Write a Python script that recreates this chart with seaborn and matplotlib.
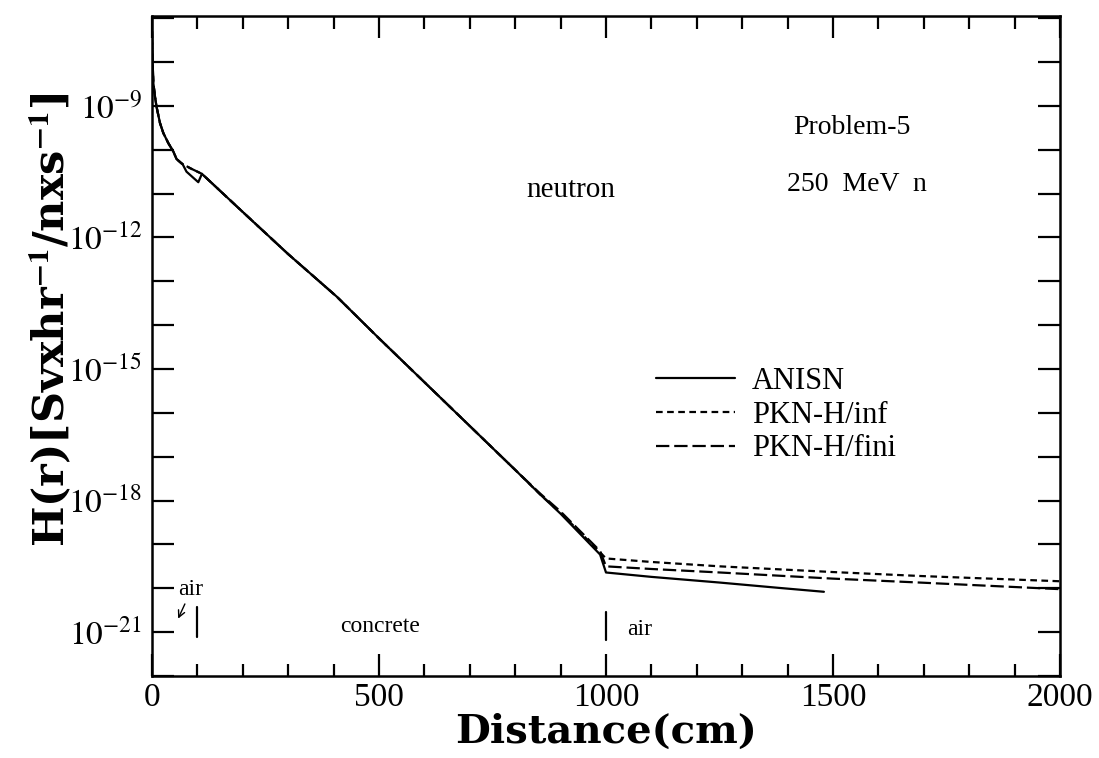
import numpy as np
import pandas as pd
import matplotlib
matplotlib.use("Agg")
import matplotlib.pyplot as plt
import seaborn as sns
from matplotlib.ticker import FixedLocator, MultipleLocator, FuncFormatter

# log10 of H(r), by series
anisn_x = [0, 1, 3, 6.6, 10, 17.6, 25, 36, 47, 54, 65, 68, 76, 90, 102, 110, 200, 300, 407,
           500, 600, 700, 800, 855, 900, 987, 1000, 1100, 1251, 1380, 1480]
anisn_log = [-7.3, -7.9, -8.48, -8.79, -9.02, -9.39, -9.62, -9.85, -10.04, -10.21, -10.31, -10.34,
             -10.5, -10.63, -10.74, -10.55, -11.42, -12.38, -13.35, -14.3, -15.3, -16.3, -17.3,
             -17.86, -18.3, -19.23, -19.64, -19.74, -19.87, -19.99, -20.08]

inf_x = [0, 1, 3, 6.6, 10, 17.6, 25, 36, 47, 54, 65, 84, 106, 110, 200, 300, 407, 500, 600, 700,
         800, 855, 900, 987, 1000, 1100, 1251, 1500, 1692, 2000]
inf_log = [-7.3, -7.9, -8.48, -8.79, -9.02, -9.39, -9.62, -9.85, -10.04, -10.21, -10.31, -10.42,
           -10.53, -10.55, -11.42, -12.38, -13.35, -14.3, -15.3, -16.3, -17.3, -17.86, -18.28,
           -19.18, -19.32, -19.4, -19.5, -19.63, -19.72, -19.84]

fini_x = [0, 1, 3, 6.6, 10, 17.6, 25, 36, 47, 54, 65, 84, 106, 110, 200, 300, 407, 500, 600, 700,
          800, 855, 900, 987, 1000, 1100, 1251, 1500, 1692, 2000]
fini_log = [-7.3, -7.9, -8.48, -8.79, -9.02, -9.39, -9.62, -9.85, -10.04, -10.21, -10.31, -10.42,
            -10.53, -10.55, -11.42, -12.38, -13.35, -14.3, -15.3, -16.3, -17.3, -17.84, -18.25,
            -19.15, -19.5, -19.56, -19.64, -19.78, -19.87, -20.02]

x_labels = [0, 500, 1000, 1500, 2000]
y_labels = [-9, -12, -15, -18, -21]

sns.set_theme(style="ticks")
plt.rcParams['font.family'] = ['Liberation Serif', 'DejaVu Serif']
plt.rcParams['mathtext.fontset'] = 'stix'
for k in ['text.color', 'axes.labelcolor', 'xtick.color', 'ytick.color', 'axes.edgecolor']:
    plt.rcParams[k] = 'black'

fig = plt.figure(figsize=(10.99, 7.58), dpi=100)
ax = fig.add_axes([0.1383, 0.1082, 0.8262, 0.8707])

series = [
    ("ANISN", anisn_x, anisn_log, (None, None)),
    ("PKN-H/inf", inf_x, inf_log, (3, 2)),
    ("PKN-H/fini", fini_x, fini_log, (6, 2.2)),
]
for name, xs, ls, dash in series:
    d = pd.DataFrame({"x": xs, "H": np.power(10.0, ls)})
    sns.lineplot(data=d, x="x", y="H", ax=ax, color="black", linewidth=1.6,
                 label=name, sort=False, estimator=None)
    if dash[0] is not None:
        ax.lines[-1].set_dashes(dash)

ax.set_yscale("log")
ax.set_xlim(0, 2000)
ax.set_ylim(1e-22, 10**-6.95)

ax.xaxis.set_major_locator(FixedLocator(x_labels))
ax.xaxis.set_minor_locator(MultipleLocator(100))
ax.yaxis.set_major_locator(FixedLocator([10.0**e for e in range(-22, -6)]))
ax.yaxis.set_minor_locator(FixedLocator([]))
ax.yaxis.set_major_formatter(FuncFormatter(
    lambda v, p: r'$10^{%d}$' % round(np.log10(v)) if round(np.log10(v)) in y_labels else ''))
ax.xaxis.set_major_formatter(FuncFormatter(lambda v, p: '%d' % v))

ax.tick_params(which='both', direction='in', top=True, right=True, width=1.6, color='black',
               labelcolor='black')
ax.tick_params(axis='x', which='major', length=16, labelsize=24, pad=5)
ax.tick_params(axis='x', which='minor', length=9)
ax.tick_params(axis='y', which='major', length=16, labelsize=24, pad=7)
for s in ax.spines.values():
    s.set_linewidth(1.8)
    s.set_color('black')

ax.set_xlabel("Distance(cm)", fontsize=29, fontweight='bold', family=['DejaVu Serif'])
ax.xaxis.set_label_coords(0.5, -0.056)
ax.set_ylabel(r'H(r)[Svxhr$^{\mathbf{-1}}$/nxs$^{\mathbf{-1}}$]', fontsize=31, fontweight='bold',
              family=['DejaVu Serif'])
ax.yaxis.set_label_coords(-0.087, 0.54)

ax.text(1542, 10**-9.5, "Problem-5", fontsize=20, ha='center', va='center')
ax.text(1553, 10**-10.8, "250  MeV  n", fontsize=20, ha='center', va='center')
ax.text(923, 10**-10.91, "neutron", fontsize=21, ha='center', va='center')
ax.text(502, 10**-20.87, "concrete", fontsize=17, ha='center', va='center')
ax.text(1046, 10**-20.94, "air", fontsize=17, ha='left', va='center')
ax.text(84, 10**-20.03, "air", fontsize=17, ha='center', va='center')
ax.annotate("", xy=(55, 10**-20.75), xytext=(75, 10**-20.3),
            arrowprops=dict(arrowstyle='->', color='black', lw=1))
ax.plot([100, 100], [10**-20.43, 10**-21.1], color='black', lw=1.6)
ax.plot([1000, 1000], [10**-20.53, 10**-21.17], color='black', lw=1.6)

leg = ax.legend(loc='upper left', bbox_to_anchor=(0.555, 0.468), frameon=False, fontsize=22,
                handlelength=2.6, handletextpad=0.55, labelspacing=0.15, borderaxespad=0,
                borderpad=0, labelcolor='black')
for h in leg.get_lines():
    h.set_linewidth(1.6)

fig.savefig("out.png", dpi=100)
